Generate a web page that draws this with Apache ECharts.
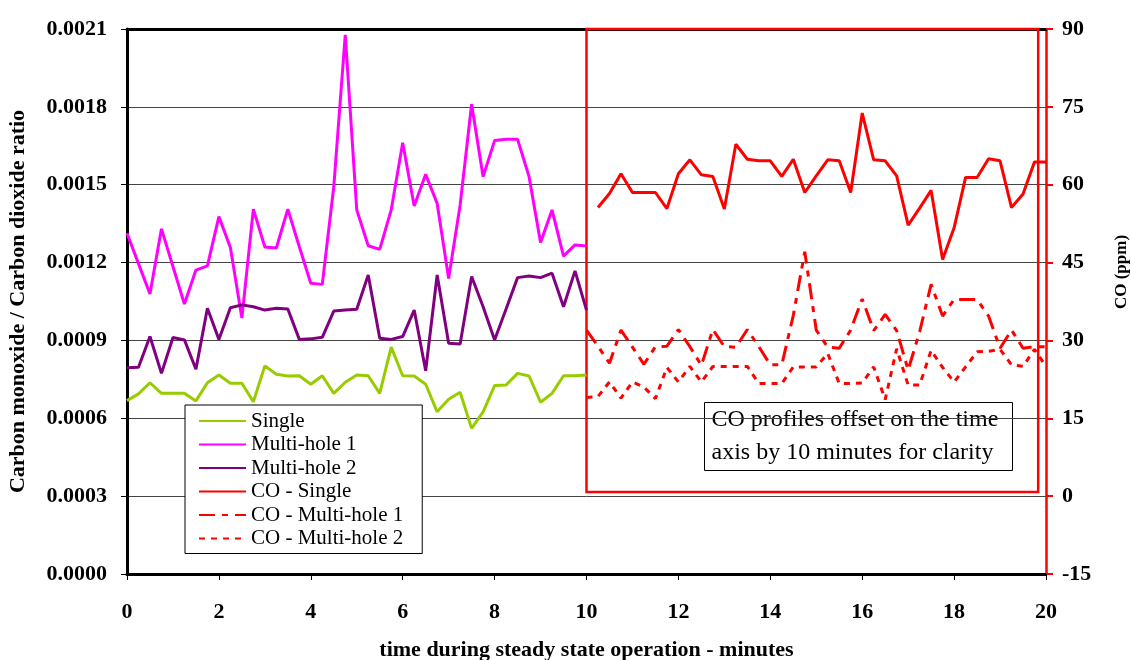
<!DOCTYPE html>
<html><head><meta charset="utf-8">
<script src="https://cdn.jsdelivr.net/npm/echarts@6/dist/echarts.min.js"></script>
<style>html,body{margin:0;padding:0;background:#fff}#c{width:1131px;height:660px}</style>
</head><body><div id="c"></div>
<script>
// time (minutes)
const timeLeft = [0,0.25,0.5,0.75,1,1.25,1.5,1.75,2,2.25,2.5,2.75,3,3.25,3.5,3.75,4,4.25,4.5,4.75,5,5.25,5.5,5.75,6,6.25,6.5,6.75,7,7.25,7.5,7.75,8,8.25,8.5,8.75,9,9.25,9.5,9.75,10];
const timeCO = [10,10.25,10.5,10.75,11,11.25,11.5,11.75,12,12.25,12.5,12.75,13,13.25,13.5,13.75,14,14.25,14.5,14.75,15,15.25,15.5,15.75,16,16.25,16.5,16.75,17,17.25,17.5,17.75,18,18.25,18.5,18.75,19,19.25,19.5,19.75,20];
const timeCOSingle = [10.25,10.5,10.75,11,11.25,11.5,11.75,12,12.25,12.5,12.75,13,13.25,13.5,13.75,14,14.25,14.5,14.75,15,15.25,15.5,15.75,16,16.25,16.5,16.75,17,17.25,17.5,17.75,18,18.25,18.5,18.75,19,19.25,19.5,19.75,20];

// CO / CO2 ratio
const ratioSingle = [0.000668,0.000694,0.000737,0.000696,0.000696,0.000696,0.000667,0.000737,0.000767,0.000735,0.000735,0.000664,0.000802,0.000770,0.000763,0.000764,0.000731,0.000764,0.000696,0.000739,0.000767,0.000764,0.000696,0.000874,0.000764,0.000763,0.000731,0.000625,0.000673,0.000700,0.000561,0.000625,0.000726,0.000728,0.000773,0.000763,0.000662,0.000696,0.000764,0.000764,0.000767];
const ratioMulti1 = [0.001313,0.001196,0.001079,0.001330,0.001185,0.001040,0.001171,0.001187,0.001377,0.001258,0.000986,0.001406,0.001260,0.001256,0.001406,0.001261,0.001120,0.001116,0.001492,0.002077,0.001403,0.001265,0.001251,0.001403,0.001662,0.001418,0.001540,0.001428,0.001139,0.001422,0.001810,0.001531,0.001670,0.001675,0.001675,0.001531,0.001277,0.001403,0.001225,0.001268,0.001264];
const ratioMulti2 = [0.000795,0.000797,0.000915,0.000773,0.000911,0.000902,0.000789,0.001024,0.000904,0.001026,0.001037,0.001030,0.001017,0.001024,0.001021,0.000904,0.000906,0.000912,0.001013,0.001017,0.001020,0.001152,0.000908,0.000904,0.000915,0.001017,0.000783,0.001152,0.000889,0.000886,0.001146,0.001030,0.000902,0.001021,0.001142,0.001148,0.001142,0.001159,0.001030,0.001168,0.001017];

// CO (ppm), offset by 10 minutes
const coSingle = [55.6,58.3,62.1,58.5,58.5,58.5,55.4,62.1,64.8,61.9,61.6,55.3,67.8,64.9,64.6,64.6,61.6,64.9,58.5,61.7,64.8,64.6,58.5,73.8,64.8,64.6,61.7,52.2,55.5,58.9,45.6,51.7,61.4,61.4,65.0,64.6,55.6,58.2,64.4,64.4];
const coMulti1 = [32.0,28.9,25.6,32.0,28.7,25.4,28.8,28.9,32.1,28.8,25.2,32.1,28.8,28.7,32.1,28.8,25.3,25.3,34.8,47.1,32.0,28.7,28.5,32.0,38.0,31.9,35.0,31.9,24.3,31.7,40.8,34.7,37.9,37.9,37.9,34.7,28.5,32.0,28.5,28.8,28.8];
const coMulti2 = [19.0,19.2,22.0,18.9,22.0,21.0,18.8,24.8,22.0,25.0,22.0,25.0,25.0,25.0,25.0,21.7,21.7,21.7,24.9,24.9,24.9,27.5,21.7,21.7,21.8,24.9,18.6,28.4,21.4,21.4,28.1,24.8,22.0,24.9,27.8,27.9,28.3,25.3,25.0,28.3,25.0];

// axis ticks
const xTicks = {min: 0, max: 20, interval: 2};
const ratioTicks = {min: 0, max: 0.0021, interval: 0.0003};
const coTicks = {min: -15, max: 90, interval: 15};

// annotation box extents (data units)
const offsetBox = [{xAxis: 10, yAxis: 90}, {xAxis: 19.83, yAxis: 0.8}];

const pair = (xs, ys) => ys.map((v, i) => [xs[i], v]);
const FONT = 'Liberation Serif';

const chart = echarts.init(document.getElementById('c'), null, {renderer: 'canvas'});
const lineBase = {type: 'line', symbol: 'none', showSymbol: false, animation: false, smooth: false};

chart.setOption({
  backgroundColor: '#fff',
  animation: false,
  grid: {left: 127, right: 85, top: 29, bottom: 86, containLabel: false, outerBoundsMode: 'none'},
  legend: {
    orient: 'vertical', left: 185, top: 405,
    backgroundColor: '#fff', borderColor: '#000', borderWidth: 1,
    padding: [5, 19, 4, 13], itemGap: 1.5, itemWidth: 47, itemHeight: 14,
    itemStyle: {opacity: 0, color: 'rgba(0,0,0,0)', borderWidth: 0},
    textStyle: {fontFamily: FONT, fontSize: 21, color: '#000', lineHeight: 22},
    data: ['Single', 'Multi-hole 1', 'Multi-hole 2', 'CO - Single', 'CO - Multi-hole 1', 'CO - Multi-hole 2'],
    z: 20
  },
  xAxis: [{
    type: 'value', min: xTicks.min, max: xTicks.max, interval: xTicks.interval,
    name: 'time during steady state operation - minutes', nameLocation: 'middle', nameGap: 65,
    nameTextStyle: {fontFamily: FONT, fontSize: 22, fontWeight: 'bold', color: '#000'},
    axisLine: {onZero: false, lineStyle: {color: '#000', width: 3}},
    axisTick: {show: true, length: 6, lineStyle: {color: '#000', width: 1}},
    axisLabel: {fontFamily: FONT, fontSize: 22, fontWeight: 'bold', color: '#000', margin: 27},
    splitLine: {show: false}
  }, {
    type: 'value', position: 'top', min: xTicks.min, max: xTicks.max,
    axisLine: {show: true, onZero: false, lineStyle: {color: '#000', width: 3}},
    axisTick: {show: false}, axisLabel: {show: false}, splitLine: {show: false}
  }],
  yAxis: [{
    type: 'value', min: ratioTicks.min, max: ratioTicks.max, interval: ratioTicks.interval,
    name: 'Carbon monoxide / Carbon dioxide ratio', nameLocation: 'middle', nameGap: 98,
    nameTextStyle: {fontFamily: FONT, fontSize: 22, fontWeight: 'bold', color: '#000'},
    axisLine: {show: true, onZero: false, lineStyle: {color: '#000', width: 3}},
    axisTick: {show: true, length: 6, lineStyle: {color: '#000', width: 1}},
    axisLabel: {fontFamily: FONT, fontSize: 22, fontWeight: 'bold', color: '#000', margin: 20,
      formatter: v => v.toFixed(4)},
    splitLine: {show: true, lineStyle: {color: '#444', width: 1}}
  }, {
    type: 'value', position: 'right', min: coTicks.min, max: coTicks.max, interval: coTicks.interval,
    axisLine: {show: true, onZero: false, lineStyle: {color: '#FF0000', width: 2.5}},
    axisTick: {show: true, length: 7, lineStyle: {color: '#FF0000', width: 2}},
    axisLabel: {fontFamily: FONT, fontSize: 22, fontWeight: 'bold', color: '#000', margin: 16},
    splitLine: {show: false}
  }],
  series: [
    Object.assign({}, lineBase, {name: 'Single', xAxisIndex: 0, yAxisIndex: 0, data: pair(timeLeft, ratioSingle),
      lineStyle: {color: '#99CC00', width: 3}, itemStyle: {color: '#99CC00'}}),
    Object.assign({}, lineBase, {name: 'Multi-hole 1', xAxisIndex: 0, yAxisIndex: 0, data: pair(timeLeft, ratioMulti1),
      lineStyle: {color: '#FF00FF', width: 3}, itemStyle: {color: '#FF00FF'}}),
    Object.assign({}, lineBase, {name: 'Multi-hole 2', xAxisIndex: 0, yAxisIndex: 0, data: pair(timeLeft, ratioMulti2),
      lineStyle: {color: '#800080', width: 3}, itemStyle: {color: '#800080'}}),
    Object.assign({}, lineBase, {name: 'CO - Single', xAxisIndex: 0, yAxisIndex: 1, data: pair(timeCOSingle, coSingle),
      lineStyle: {color: '#FF0000', width: 3}, itemStyle: {color: '#FF0000'},
      markArea: {silent: true, itemStyle: {color: 'rgba(0,0,0,0)', borderColor: '#FF0000', borderWidth: 2.5},
        data: [offsetBox]}}),
    Object.assign({}, lineBase, {name: 'CO - Multi-hole 1', xAxisIndex: 0, yAxisIndex: 1, data: pair(timeCO, coMulti1),
      lineStyle: {color: '#FF0000', width: 3, type: [16, 7, 6, 7]}, itemStyle: {color: '#FF0000'}}),
    Object.assign({}, lineBase, {name: 'CO - Multi-hole 2', xAxisIndex: 0, yAxisIndex: 1, data: pair(timeCO, coMulti2),
      lineStyle: {color: '#FF0000', width: 3, type: [6, 6]}, itemStyle: {color: '#FF0000'}})
  ],
  graphic: [
    {type: 'group', left: 704, top: 402, z: 30, children: [
      {type: 'rect', shape: {x: 0, y: 0, width: 308, height: 68},
        style: {fill: '#fff', stroke: '#000', lineWidth: 1}},
      {type: 'text', x: 7, y: 1, style: {text: 'CO profiles offset on the time\naxis by 10 minutes for clarity',
        font: '24px "Liberation Serif"', fill: '#000', lineHeight: 33}}
    ]},
    {type: 'text', x: 1122, y: 272, rotation: Math.PI / 2, z: 30,
      style: {text: 'CO (ppm)', font: 'bold 17px "Liberation Serif"', fill: '#000', align: 'center', verticalAlign: 'middle'}}
  ]
});
</script></body></html>
